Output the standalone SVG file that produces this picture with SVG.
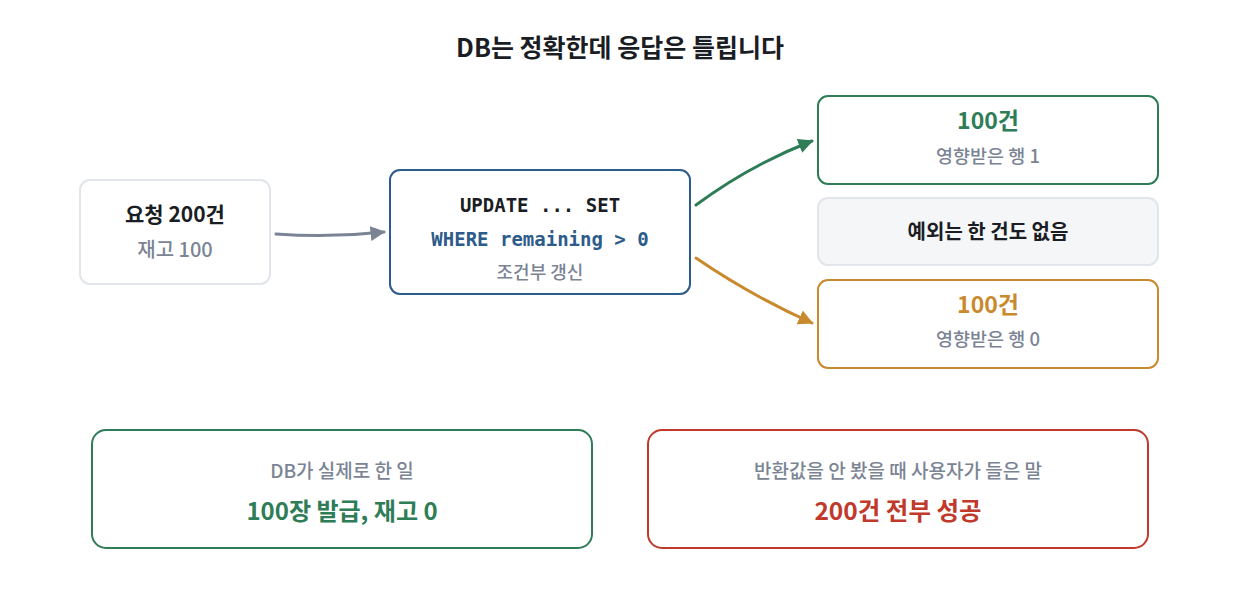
<svg xmlns="http://www.w3.org/2000/svg" width="1240" height="600" viewBox="0 0 1240 600">
<defs>
<style>
text{font-family:"Noto Sans CJK KR","Noto Sans",sans-serif;text-anchor:middle}
.t{font-size:25px;font-weight:700;fill:#1a1d23}
.b{font-size:20px;font-weight:700;fill:#1a1d23}
.s{font-size:19px;fill:#7b8494;font-weight:500}
.m{font-family:"DejaVu Sans Mono",monospace;font-size:19px;font-weight:700}
.big{font-size:24px;font-weight:700}
.box{fill:#fff;stroke-width:2}
</style>
<marker id="ag" viewBox="0 0 10 10" refX="9" refY="5" markerWidth="5" markerHeight="5" orient="auto"><path d="M0,0L10,5L0,10z" fill="#2e7d57"/></marker>
<marker id="ao" viewBox="0 0 10 10" refX="9" refY="5" markerWidth="5" markerHeight="5" orient="auto"><path d="M0,0L10,5L0,10z" fill="#c98a2e"/></marker>
<marker id="ay" viewBox="0 0 10 10" refX="9" refY="5" markerWidth="5" markerHeight="5" orient="auto"><path d="M0,0L10,5L0,10z" fill="#7b8494"/></marker>
</defs>
<rect width="1240" height="600" fill="#fff"/>
<text class="t" x="620" y="57">DB는 정확한데 응답은 틀립니다</text>
<g id="connectors" fill="none" stroke-width="3" stroke-linecap="round">
<path d="M276,234 Q330,238 384,232" stroke="#7b8494" marker-end="url(#ay)"/>
<path d="M696,205 Q750,165 812,141" stroke="#2e7d57" marker-end="url(#ag)"/>
<path d="M696,258 Q750,295 812,323" stroke="#c98a2e" marker-end="url(#ao)"/>
</g>
<g id="request">
<rect class="box" x="80" y="180" width="190" height="104" rx="10" stroke="#e2e5ea"/>
<text class="b" x="175" y="222" style="font-size:21px">요청 200건</text>
<text class="s" x="175" y="257" style="font-size:20px">재고 100</text>
</g>
<g id="update">
<rect class="box" x="390" y="170" width="300" height="124" rx="10" stroke="#2d5b8a"/>
<text class="m" x="540" y="212" fill="#1a1d23">UPDATE ... SET</text>
<text class="m" x="540" y="246" fill="#2d5b8a">WHERE remaining &gt; 0</text>
<text class="s" x="540" y="279" style="font-size:18px">조건부 갱신</text>
</g>
<g id="ok">
<rect class="box" x="818" y="96" width="340" height="88" rx="10" stroke="#2e7d57"/>
<text class="big" x="988" y="129" fill="#2e7d57" style="font-size:23px">100건</text>
<text class="s" x="988" y="163" style="font-size:18.5px">영향받은 행 1</text>
</g>
<g id="noexc">
<rect x="818" y="198" width="340" height="67" rx="10" fill="#f5f6f8" stroke="#e2e5ea" stroke-width="2"/>
<text class="b" x="988" y="239">예외는 한 건도 없음</text>
</g>
<g id="zero">
<rect class="box" x="818" y="280" width="340" height="88" rx="10" stroke="#c98a2e"/>
<text class="big" x="988" y="313" fill="#c98a2e" style="font-size:23px">100건</text>
<text class="s" x="988" y="346" style="font-size:18.5px">영향받은 행 0</text>
</g>
<g id="actual">
<rect class="box" x="92" y="430" width="500" height="118" rx="14" stroke="#2e7d57"/>
<text class="s" x="342" y="478">DB가 실제로 한 일</text>
<text class="big" x="342" y="520" fill="#2e7d57">100장 발급, 재고 0</text>
</g>
<g id="heard">
<rect class="box" x="648" y="430" width="500" height="118" rx="14" stroke="#c0392b"/>
<text class="s" x="898" y="478">반환값을 안 봤을 때 사용자가 들은 말</text>
<text class="big" x="898" y="520" fill="#c0392b" style="font-size:24.5px">200건 전부 성공</text>
</g>
</svg>
